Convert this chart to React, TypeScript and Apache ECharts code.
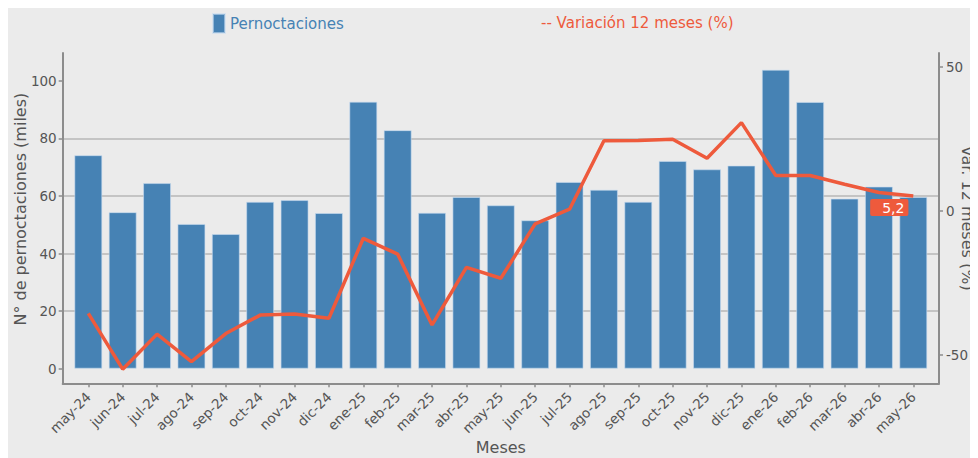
import React, { useEffect, useRef } from "react";
import * as echarts from "echarts";

const categories = [
  "may-24", "jun-24", "jul-24", "ago-24", "sep-24", "oct-24", "nov-24", "dic-24",
  "ene-25", "feb-25", "mar-25", "abr-25", "may-25", "jun-25", "jul-25", "ago-25",
  "sep-25", "oct-25", "nov-25", "dic-25", "ene-26", "feb-26", "mar-26", "abr-26", "may-26",
];
const pernoctaciones = [
  74.2, 54.4, 64.5, 50.3, 46.8, 58.0, 58.6, 54.1,
  92.8, 82.9, 54.2, 59.7, 56.8, 51.6, 64.9, 62.2,
  58.0, 72.2, 69.3, 70.6, 103.9, 92.7, 59.1, 63.3, 59.7,
];
const variacion = [
  -35.6, -55.0, -42.8, -52.4, -42.6, -36.2, -35.8, -37.3,
  -9.5, -15.0, -39.6, -19.6, -23.4, -4.5, 0.6, 24.4,
  24.5, 24.9, 18.3, 30.7, 12.3, 12.3, 9.3, 6.4, 5.2,
];
const leftTicks = [0, 20, 40, 60, 80, 100];
const rightTicks = [-50, 0, 50];

const FONT = "DejaVu Sans";
const BAR = "#4682b4";
const LINE = "#ee5a3c";
const AXIS = "#8c8c8c";
const GRID = "#c4c4c4";
const TXT = "#555555";

export default function App() {
  const ref = useRef<HTMLDivElement>(null);
  useEffect(() => {
    document.body.style.overflow = "hidden";
    if (!ref.current) return;
    const chart = echarts.init(ref.current, null, { renderer: "svg" });
    const idx = categories.map((_, i) => i);
    const lastI = variacion.length - 1;
    chart.setOption({
      animation: false,
      backgroundColor: "#ebebeb",
      textStyle: { fontFamily: FONT },
      grid: {
        left: 54.7,
        right: 39,
        top: 45,
        bottom: 74.7,
        containLabel: false,
        outerBoundsMode: "none",
      },
      legend: [
        {
          data: [{ name: "Pernoctaciones", icon: "rect", itemStyle: { color: BAR } }],
          left: 199,
          top: 0,
          itemWidth: 12,
          itemHeight: 19,
          selectedMode: false,
          textStyle: { color: BAR, fontSize: 15, fontFamily: FONT },
        },
        {
          data: [{ name: "Variación 12 meses (%)", icon: "none" }],
          left: 523,
          top: 0,
          itemWidth: 0,
          itemHeight: 19,
          selectedMode: false,
          formatter: (n: string) => "-- " + n,
          textStyle: { color: LINE, fontSize: 15, fontFamily: FONT },
        },
      ],
      xAxis: {
        type: "value",
        min: -0.745,
        max: 24.748,
        name: "Meses",
        nameLocation: "middle",
        nameGap: 56,
        nameMoveOverlap: false,
        nameTextStyle: { fontSize: 16, color: TXT, fontFamily: FONT },
        axisLine: { show: true, onZero: false, lineStyle: { color: AXIS, width: 2 } },
        axisTick: { show: true, length: 4, customValues: idx, lineStyle: { color: AXIS, width: 1.5 } },
        axisLabel: {
          customValues: idx,
          rotate: 45,
          margin: 11,
          fontSize: 13.5,
          color: TXT,
          fontFamily: FONT,
          formatter: (v: number) => categories[Math.round(v)] ?? "",
        },
        splitLine: { show: false },
      },
      yAxis: [
        {
          type: "value",
          position: "left",
          min: -5.07,
          max: 109.7,
          minInterval: 20,
          maxInterval: 20,
          name: "N° de pernoctaciones (miles)",
          nameLocation: "middle",
          nameRotate: 90,
          nameGap: 34,
          nameMoveOverlap: false,
          nameTextStyle: { fontSize: 16, color: TXT, fontFamily: FONT, padding: [0, 0, 0, 18] },
          axisLine: { show: true, onZero: false, lineStyle: { color: AXIS, width: 2 } },
          axisTick: { show: true, length: 4, customValues: leftTicks, lineStyle: { color: AXIS, width: 1.5 } },
          axisLabel: { customValues: leftTicks, margin: 6, fontSize: 13.5, color: TXT, fontFamily: FONT },
          splitLine: { show: true, showMinLine: false, showMaxLine: false, lineStyle: { color: GRID, width: 2 } },
        },
        {
          type: "value",
          position: "right",
          min: -59.9,
          max: 54.9,
          minInterval: 50,
          maxInterval: 50,
          name: "Var. 12 meses (%)",
          nameLocation: "middle",
          nameRotate: -90,
          nameGap: 20,
          nameMoveOverlap: false,
          nameTextStyle: { fontSize: 16, color: TXT, fontFamily: FONT },
          axisLine: { show: true, onZero: false, lineStyle: { color: AXIS, width: 2 } },
          axisTick: { show: true, length: 4, customValues: rightTicks, lineStyle: { color: AXIS, width: 1.5 } },
          axisLabel: { customValues: rightTicks, margin: 7, fontSize: 13.5, color: TXT, fontFamily: FONT },
          splitLine: { show: false },
        },
      ],
      series: [
        {
          name: "Pernoctaciones",
          type: "bar",
          xAxisIndex: 0,
          yAxisIndex: 0,
          barWidth: 28,
          itemStyle: { color: BAR, borderColor: "rgba(200,220,240,0.6)", borderWidth: 1 },
          data: pernoctaciones.map((v, i) => [i, v]),
        },
        {
          name: "Variación 12 meses (%)",
          type: "line",
          xAxisIndex: 0,
          yAxisIndex: 1,
          symbol: "circle",
          symbolSize: 0,
          itemStyle: { color: LINE },
          lineStyle: { color: LINE, width: 3.5 },
          z: 5,
          data: variacion.map((v, i) =>
            i === lastI
              ? {
                  value: [i, v],
                  label: {
                    show: true,
                    position: "bottom",
                    distance: 3,
                    offset: [-24, 0],
                    formatter: () => String(v).replace(".", ","),
                    color: "#ffffff",
                    backgroundColor: LINE,
                    borderRadius: 2,
                    padding: [1, 4, 0, 12],
                    lineHeight: 16,
                    fontSize: 14,
                    fontFamily: FONT,
                  },
                }
              : [i, v]
          ),
        },
      ],
    });
    return () => chart.dispose();
  }, []);
  return <div ref={ref} style={{ width: 970, height: 450, background: "#ebebeb" }} />;
}
